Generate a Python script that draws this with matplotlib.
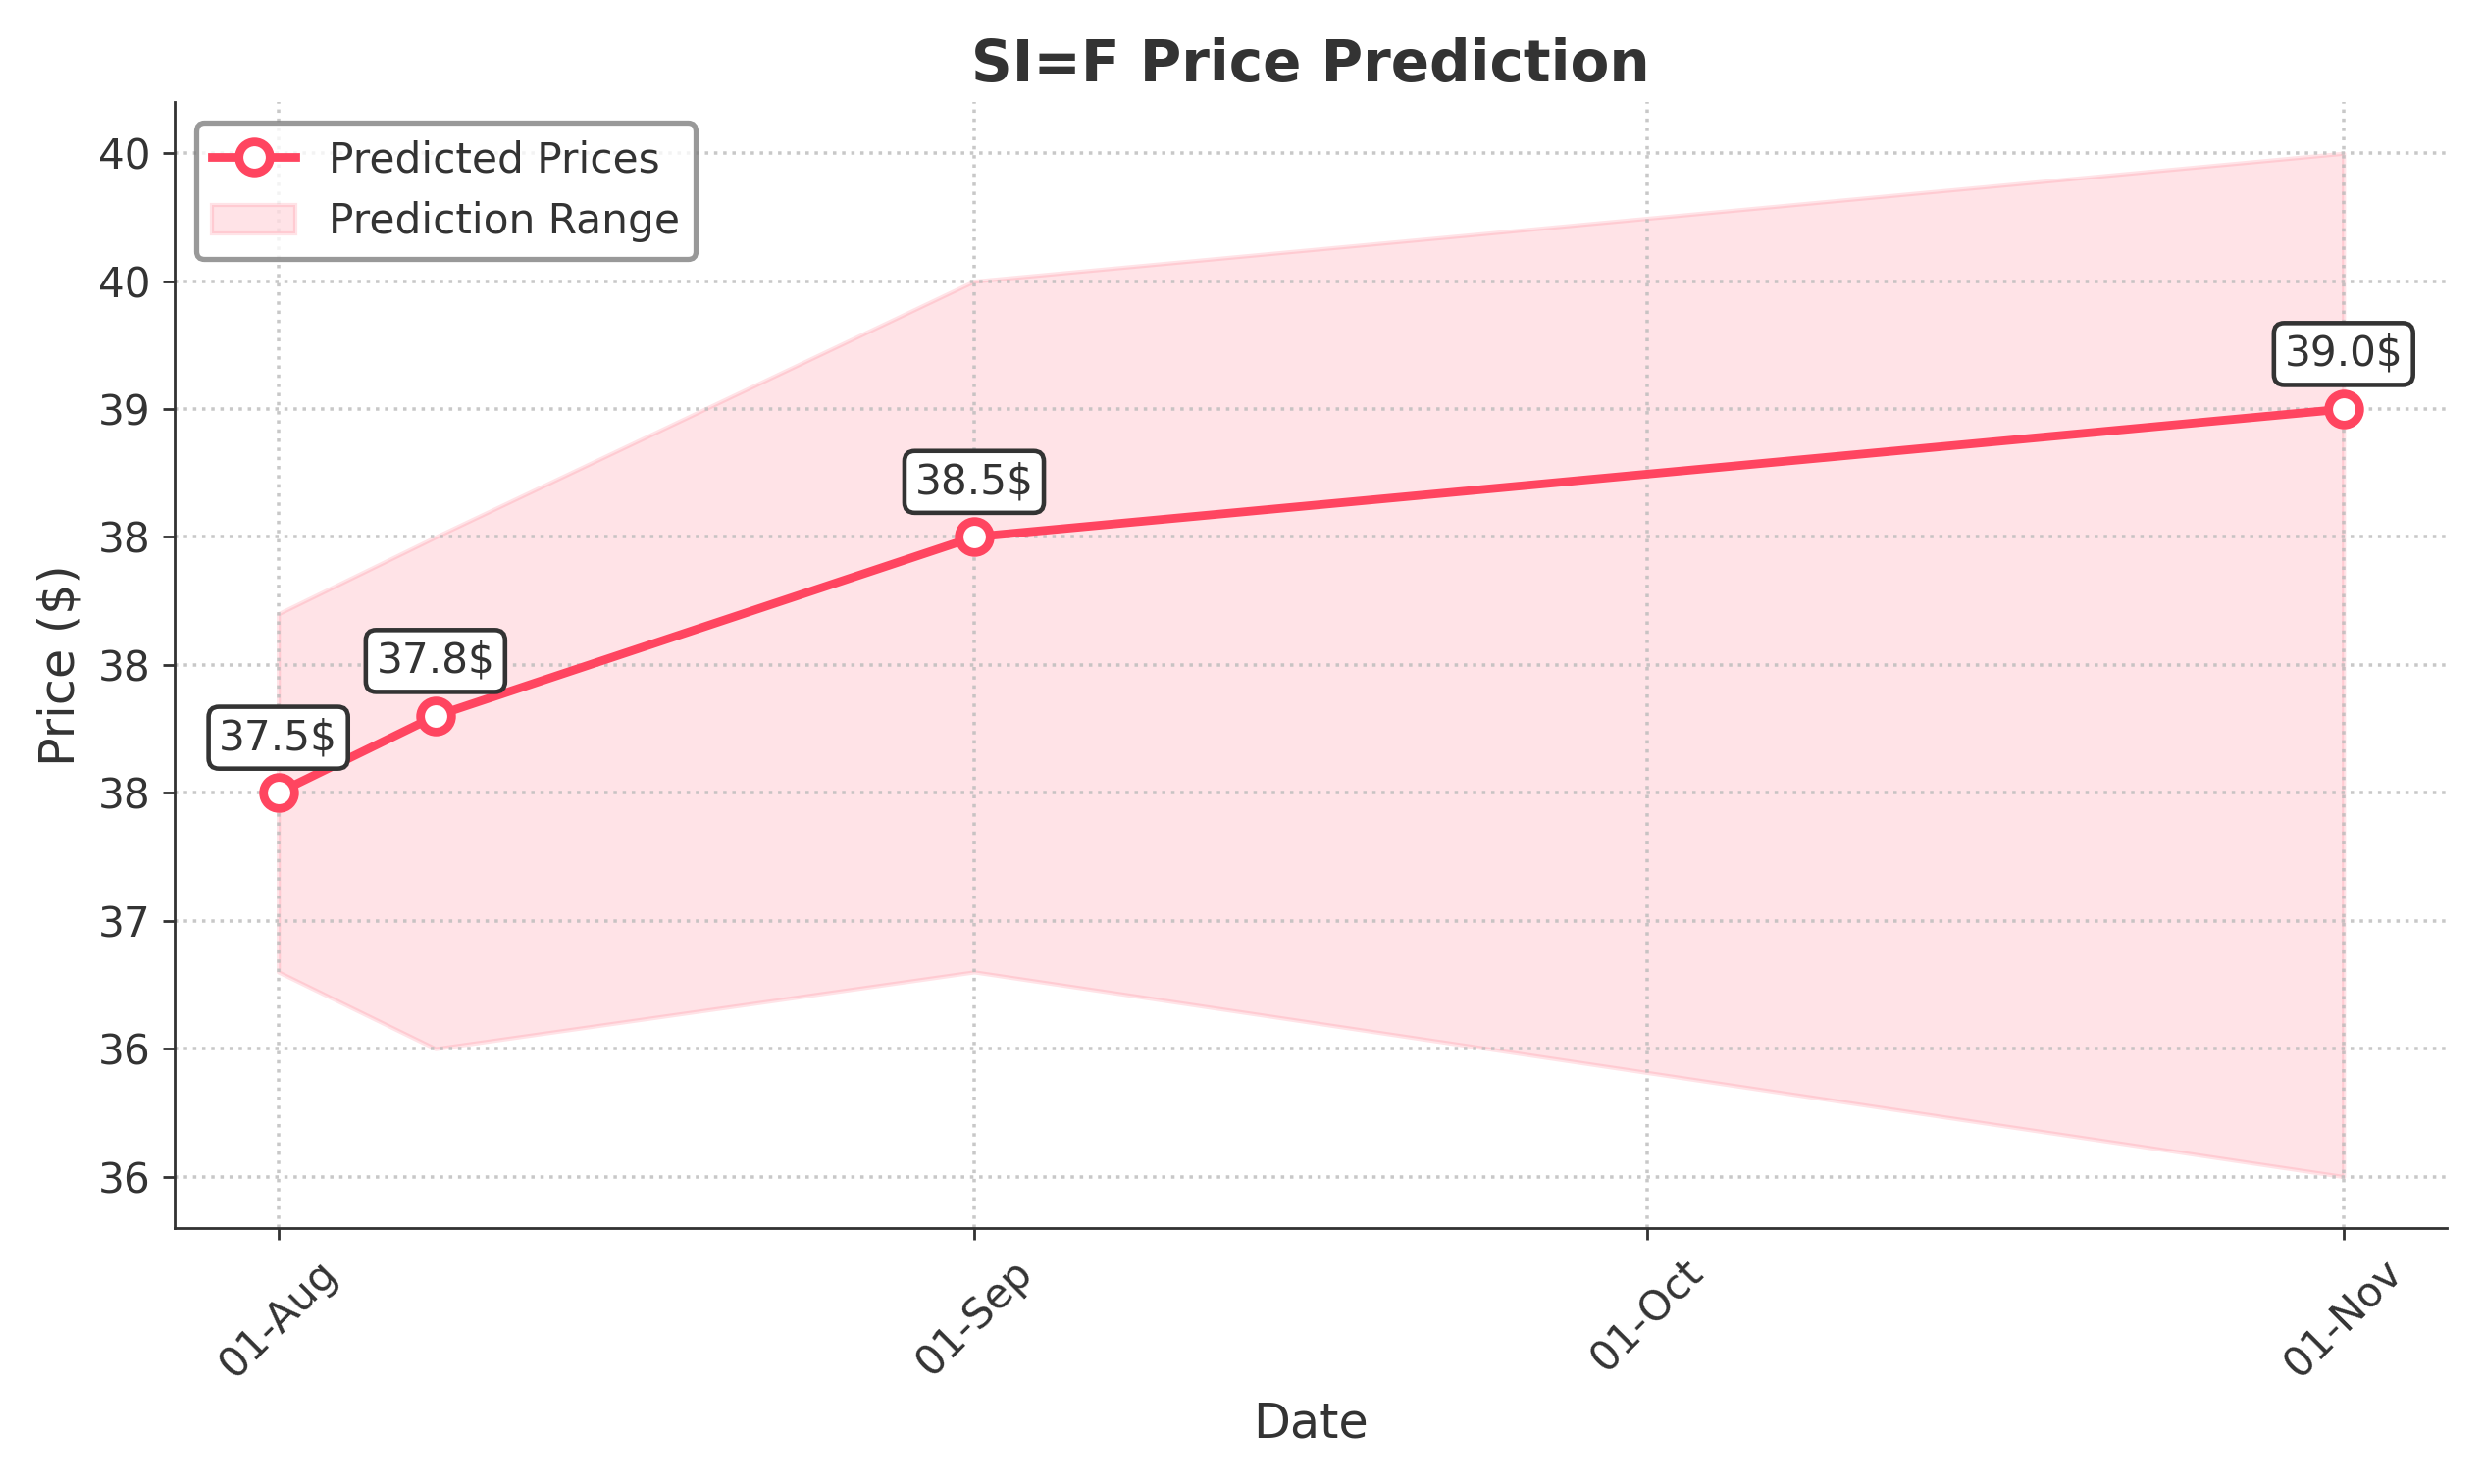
import numpy as np
import pandas as pd
import matplotlib
matplotlib.use("Agg")
import matplotlib.pyplot as plt
import matplotlib.dates as mdates
from matplotlib.ticker import FormatStrFormatter

###############################################################################
# Data
# ---------------------------
dates = pd.to_datetime(["2024-08-01", "2024-08-08", "2024-09-01", "2024-11-01"])
predicted = [37.5, 37.8, 38.5, 39.0]
range_low = [36.8, 36.5, 36.8, 36.0]
range_high = [38.2, 38.5, 39.5, 40.0]
labels = ["37.5$", "37.8$", "38.5$", "39.0$"]

###############################################################################
# Style
# -----
line_color = "#FF4560"
text_color = "#333333"
plt.rcParams["font.family"] = ["DejaVu Sans"]
plt.rcParams["text.color"] = text_color
plt.rcParams["axes.labelcolor"] = text_color
plt.rcParams["xtick.color"] = text_color
plt.rcParams["ytick.color"] = text_color

dpi = 253.2
fig, ax = plt.subplots(figsize=(2532 / dpi, 1513 / dpi), dpi=dpi)

ax.fill_between(dates, range_low, range_high, color=line_color, alpha=0.15,
                edgecolor=line_color, linewidth=1.2, label="Prediction Range")
ax.plot(dates, predicted, color=line_color, linewidth=2.5, marker="o",
        markersize=9, markerfacecolor="white", markeredgecolor=line_color,
        markeredgewidth=2.5, label="Predicted Prices", zorder=3)

for d, p, lab in zip(dates, predicted, labels):
    ax.annotate(lab, (d, p), xytext=(0, 10), textcoords="offset points",
                ha="center", va="bottom", fontsize=12, color=text_color,
                bbox=dict(boxstyle="round,pad=0.25", facecolor="white",
                          edgecolor=text_color, linewidth=1.3))

ax.set_title("SI=F Price Prediction", fontsize=16.5, fontweight="bold", color=text_color)
ax.set_xlabel("Date", fontsize=14)
ax.set_ylabel("Price ($)", fontsize=14)

ax.xaxis.set_major_locator(mdates.MonthLocator())
ax.xaxis.set_major_formatter(mdates.DateFormatter("%d-%b"))
ax.yaxis.set_major_formatter(FormatStrFormatter("%.0f"))
ax.tick_params(axis="x", labelrotation=45, labelsize=12)
ax.tick_params(axis="y", labelsize=12)
for lbl in ax.get_xticklabels():
    lbl.set_ha("center")

ax.grid(True, linestyle=":", color="#BBBBBB", alpha=0.8, linewidth=1)
ax.spines["top"].set_visible(False)
ax.spines["right"].set_visible(False)
ax.spines["left"].set_color(text_color)
ax.spines["bottom"].set_color(text_color)

handles, leg_labels = ax.get_legend_handles_labels()
leg = ax.legend(handles[::-1], leg_labels[::-1], loc="upper left", fontsize=12,
                frameon=True, fancybox=True, edgecolor="gray")
leg.get_frame().set_linewidth(1.5)

plt.tight_layout()
plt.savefig("out.png", dpi=dpi)
